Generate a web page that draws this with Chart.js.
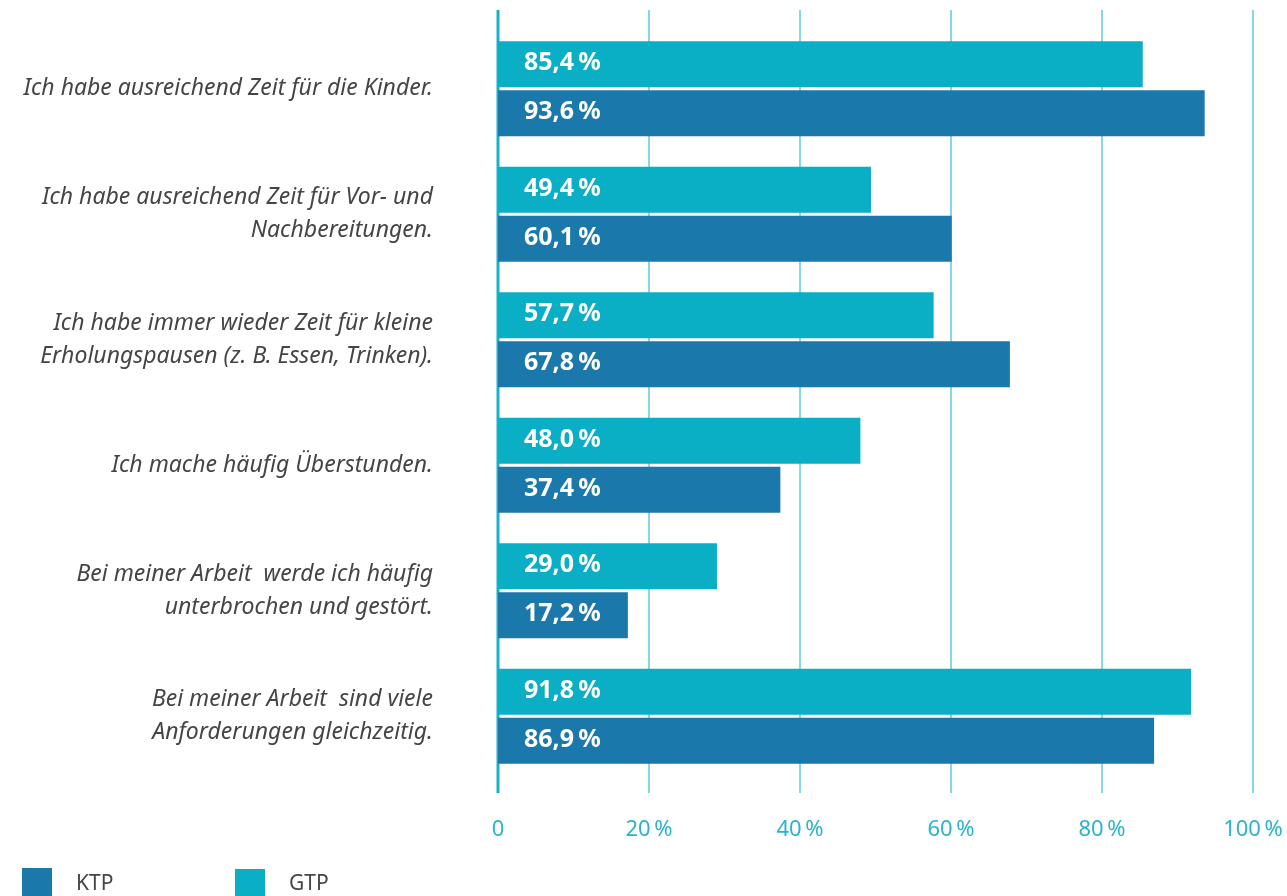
<!DOCTYPE html>
<html lang="de">
<head>
<meta charset="utf-8">
<title>Arbeitsbedingungen KTP / GTP</title>
<script src="https://cdn.jsdelivr.net/npm/chart.js@4/dist/chart.umd.min.js"></script>
<style>
  html, body { margin: 0; padding: 0; background: #fff; }
  #wrap { width: 1287px; height: 896px; position: relative; }
</style>
</head>
<body>
<div id="wrap"><canvas id="chart"></canvas></div>
<script>
// Data
const categories = [
    ['Ich habe ausreichend Zeit für die Kinder.'],
    ['Ich habe ausreichend Zeit für Vor- und', 'Nachbereitungen.'],
    ['Ich habe immer wieder Zeit für kleine', 'Erholungspausen (z. B. Essen, Trinken).'],
    ['Ich mache häufig Überstunden.'],
    ['Bei meiner Arbeit  werde ich häufig', 'unterbrochen und gestört.'],
    ['Bei meiner Arbeit  sind viele', 'Anforderungen gleichzeitig.']
];
const gtpValues = [85.4, 49.4, 57.7, 48.0, 29.0, 91.8];
const ktpValues = [93.6, 60.1, 67.8, 37.4, 17.2, 86.9];
const tickValues = [0, 20, 40, 60, 80, 100];
const legendOrder = ['KTP', 'GTP'];

const GTP_COLOR = '#0bafc5';
const KTP_COLOR = '#1b78aa';
const GRID_COLOR = '#86d8e4';
const AXIS_COLOR = '#19b1c9';
const TEXT_GREY = '#454545';
const FONT = '"Noto Sans", "Open Sans", sans-serif';

function fmt(v) {
    return v.toFixed(1).replace('.', ',') + '\u2009%';
}

// vertical grid lines, taller than the plot area
const gridPlugin = {
    id: 'gridLines',
    beforeDatasetsDraw(chart) {
        const { ctx, scales: { x } } = chart;
        ctx.save();
        tickValues.forEach(v => {
            const px = Math.round(x.getPixelForValue(v));
            ctx.beginPath();
            ctx.lineWidth = v === 0 ? 3 : 2;
            ctx.strokeStyle = v === 0 ? AXIS_COLOR : GRID_COLOR;
            ctx.moveTo(px, 10);
            ctx.lineTo(px, 793);
            ctx.stroke();
        });
        ctx.restore();
    }
};

// value labels inside the bars
const valueLabels = {
    id: 'valueLabels',
    afterDatasetsDraw(chart) {
        const { ctx } = chart;
        ctx.save();
        ctx.font = 'bold 25px ' + FONT;
        ctx.fillStyle = '#ffffff';
        ctx.textAlign = 'left';
        ctx.textBaseline = 'middle';
        chart.data.datasets.forEach((ds, i) => {
            chart.getDatasetMeta(i).data.forEach((bar, j) => {
                ctx.fillText(fmt(ds.data[j]), bar.base + 26, bar.y - 1);
            });
        });
        ctx.restore();
    }
};

// legend at bottom left
const bottomLegend = {
    id: 'bottomLegend',
    afterDraw(chart) {
        const { ctx } = chart;
        ctx.save();
        ctx.font = '21px ' + FONT;
        ctx.textBaseline = 'middle';
        ctx.textAlign = 'left';
        legendOrder.forEach((name, i) => {
            const ds = chart.data.datasets.find(d => d.label === name);
            const x0 = 22 + i * 213;
            ctx.fillStyle = ds.backgroundColor;
            ctx.fillRect(x0, 868 + i, 30, 30);
            ctx.fillStyle = TEXT_GREY;
            ctx.fillText(name, x0 + 54, 884);
        });
        ctx.restore();
    }
};

new Chart(document.getElementById('chart'), {
    type: 'bar',
    data: {
        labels: categories,
        datasets: [
            { label: 'GTP', data: gtpValues, backgroundColor: GTP_COLOR },
            { label: 'KTP', data: ktpValues, backgroundColor: KTP_COLOR }
        ]
    },
    options: {
        indexAxis: 'y',
        responsive: true,
        maintainAspectRatio: false,
        animation: false,
        categoryPercentage: 0.781,
        barPercentage: 0.939,
        layout: { padding: { top: 26, right: 34, left: 0, bottom: 0 } },
        plugins: {
            legend: { display: false },
            tooltip: { enabled: false }
        },
        scales: {
            x: {
                min: 0,
                max: 100,
                afterBuildTicks: scale => { scale.ticks = tickValues.map(v => ({ value: v })); },
                afterFit: scale => {
                    scale.height = 117;
                    scale.paddingLeft = 0;
                    scale.paddingRight = 0;
                },
                grid: { display: false, drawTicks: false },
                border: { display: false },
                ticks: {
                    padding: 38,
                    color: '#2ab4cb',
                    font: { family: FONT, size: 22 },
                    callback: v => v === 0 ? '0' : v + '\u2009%'
                }
            },
            y: {
                afterFit: scale => {
                    scale.width = 498;
                    scale.paddingTop = 0;
                    scale.paddingBottom = 0;
                },
                grid: { display: false, drawTicks: false },
                border: { display: false },
                ticks: {
                    padding: 65,
                    color: TEXT_GREY,
                    font: { family: FONT, size: 23, style: 'italic', lineHeight: 1.43 }
                }
            }
        }
    },
    plugins: [gridPlugin, valueLabels, bottomLegend]
});
</script>
</body>
</html>
